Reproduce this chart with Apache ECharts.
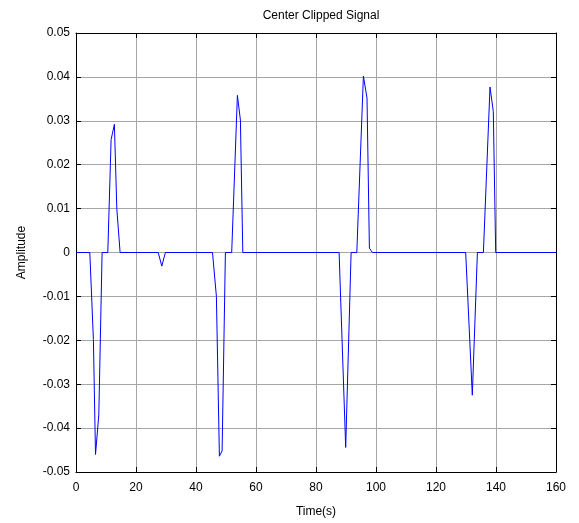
<!DOCTYPE html>
<html>
<head>
<meta charset="utf-8">
<script src="https://cdn.jsdelivr.net/npm/echarts@6/dist/echarts.min.js"></script>
<style>html,body{margin:0;padding:0;background:#fff;}#c{width:579px;height:523px;}</style>
</head>
<body>
<div id="c"></div>
<script>
// Vertices of the clipped signal (time in s, amplitude)
var times = [0, 4.6, 5.8, 6.5, 7.6, 8.7, 10.6, 11.7, 12.8, 13.6, 14.7,
  27.4, 28.6, 29.8,
  45.5, 46.8, 47.8, 48.7, 49.8, 51.9, 53.8, 54.8, 55.6,
  87.7, 89.9, 91.7, 93.6, 95.8, 97.0, 97.8, 98.8,
  129.9, 132.1, 133.8, 135.8, 138.0, 139.1, 139.9,
  160];
var amplitude = [0, 0, -0.0198, -0.046, -0.037, 0, 0, 0.0257, 0.0292, 0.010, 0,
  0, -0.0031, 0,
  0, -0.0100, -0.0464, -0.0452, 0, 0, 0.0358, 0.0302, 0,
  0, -0.0444, 0, 0, 0.0402, 0.0352, 0.0010, 0,
  0, -0.0325, 0, 0, 0.0377, 0.0321, 0,
  0];
var xTicks = [0, 20, 40, 60, 80, 100, 120, 140, 160];
var yTicks = [-0.05, -0.04, -0.03, -0.02, -0.01, 0, 0.01, 0.02, 0.03, 0.04, 0.05];

var pts = times.map(function (t, i) { return [t, amplitude[i]]; });
var font = 'Liberation Sans, Arial, sans-serif';
var chart = echarts.init(document.getElementById('c'), null, {renderer: 'canvas'});
function fmtY(v) {
  var r = Math.round(v * 100) / 100;
  if (r === 0) return '0';
  return r.toFixed(2);
}
var axisLine = {show: true, onZero: false, lineStyle: {color: '#000', width: 1}};
var tick = {show: true, inside: true, length: 5, lineStyle: {color: '#000'}};
var gridLine = {show: true, lineStyle: {color: '#a6a6a6', type: 'solid', width: 1}};
chart.setOption({
  animation: false,
  backgroundColor: '#fff',
  title: {
    text: 'Center Clipped Signal', left: 316, top: 5, textAlign: 'center',
    textStyle: {fontFamily: font, fontSize: 12, fontWeight: 'normal', color: '#000'}
  },
  grid: {left: 76, right: 23, top: 33, bottom: 51, containLabel: false, outerBoundsMode: 'none'},
  xAxis: [{
    type: 'value', min: 0, max: 160, interval: 20,
    name: 'Time(s)', nameLocation: 'middle', nameGap: 34,
    nameTextStyle: {fontFamily: font, fontSize: 12, color: '#000'},
    axisLine: axisLine, axisTick: tick,
    axisLabel: {fontFamily: font, fontSize: 12, color: '#000', margin: 10},
    splitLine: gridLine
  }, {
    type: 'value', min: 0, max: 160, interval: 20, position: 'top',
    axisLine: axisLine, axisTick: tick,
    axisLabel: {show: false}, splitLine: {show: false}
  }],
  yAxis: [{
    type: 'value', min: -0.05, max: 0.05, interval: 0.01,
    name: 'Amplitude', nameLocation: 'middle', nameGap: 48, nameRotate: 90,
    nameTextStyle: {fontFamily: font, fontSize: 12, color: '#000'},
    axisLine: axisLine, axisTick: tick,
    axisLabel: {fontFamily: font, fontSize: 12, color: '#000', margin: 6, formatter: fmtY},
    splitLine: gridLine
  }, {
    type: 'value', min: -0.05, max: 0.05, interval: 0.01, position: 'right',
    axisLine: axisLine, axisTick: tick,
    axisLabel: {show: false}, splitLine: {show: false}
  }],
  series: [{
    type: 'line', data: pts, xAxisIndex: 0, yAxisIndex: 0,
    showSymbol: false, symbol: 'none',
    lineStyle: {color: '#0000ff', width: 1}
  }]
});
</script>
</body>
</html>
